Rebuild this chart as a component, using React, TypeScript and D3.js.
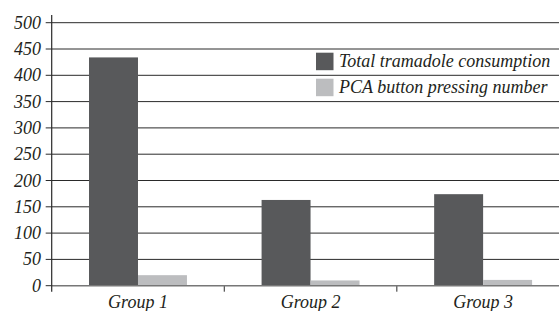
import * as d3 from "d3";

const groups = ["Group 1", "Group 2", "Group 3"];
const series = ["Total tramadole consumption", "PCA button pressing number"];
const tramadol = [434, 163, 174];
const pcaPresses = [20, 10, 11];
const yTicks = [0, 50, 100, 150, 200, 250, 300, 350, 400, 450, 500];
const colors = ["#58595b", "#bcbdbf"];

export default function App() {
  const width = 559;
  const height = 311;
  const values = [tramadol, pcaPresses];

  const x = d3.scaleBand().domain(groups).range([51.7, 569.4]).padding(0);
  const xSub = d3
    .scaleBand()
    .domain(series)
    .range([0, x.bandwidth()])
    .paddingInner(0)
    .paddingOuter(0.762);
  const y = d3.scaleLinear().domain([0, 500]).range([285.7, 22.7]);
  const axisX = x.range()[0];

  return (
    <svg
      width={width}
      height={height}
      viewBox={`0 0 ${width} ${height}`}
      style={{ position: "absolute", left: 0, top: 0, background: "#fff" }}
    >
      {yTicks.map((tick) => (
        <g key={tick} transform={`translate(0, ${y(tick)})`}>
          {tick > 0 && <line x1={axisX} x2={width} stroke="#2a2a2a" strokeWidth={1} />}
          <line x1={axisX - 6} x2={axisX} stroke="#2a2a2a" strokeWidth={1} />
          <text
            x={41}
            y={6}
            textAnchor="end"
            fontFamily="Liberation Serif"
            fontStyle="italic"
            fontSize={18}
            fill="#231f20"
          >
            {tick}
          </text>
        </g>
      ))}

      {groups.map((group, gi) => (
        <g key={group} transform={`translate(${x(group)}, 0)`}>
          {series.map((name, si) => {
            const v = values[si][gi];
            return (
              <rect
                key={name}
                x={xSub(name)}
                y={y(v)}
                width={xSub.bandwidth()}
                height={y(0) - y(v)}
                fill={colors[si]}
              />
            );
          })}
          <text
            x={x.bandwidth() / 2}
            y={308}
            textAnchor="middle"
            fontFamily="Liberation Serif"
            fontStyle="italic"
            fontSize={18}
            fill="#231f20"
          >
            {group}
          </text>
          {gi > 0 && <line x1={0} x2={0} y1={y(0)} y2={y(0) + 6} stroke="#2a2a2a" />}
        </g>
      ))}

      <line x1={axisX} x2={width} y1={y(0)} y2={y(0)} stroke="#777" strokeWidth={1.5} />
      <line x1={axisX} x2={axisX} y1={15} y2={y(0) + 6} stroke="#2a2a2a" strokeWidth={1.2} />

      {series.map((name, si) => (
        <g key={name} transform={`translate(316, ${52.7 + si * 26})`}>
          <rect width={17.5} height={17.5} fill={colors[si]} />
          <text
            x={23}
            y={14}
            fontFamily="Liberation Serif"
            fontStyle="italic"
            fontSize={18}
            fill="#231f20"
          >
            {name}
          </text>
        </g>
      ))}
    </svg>
  );
}
